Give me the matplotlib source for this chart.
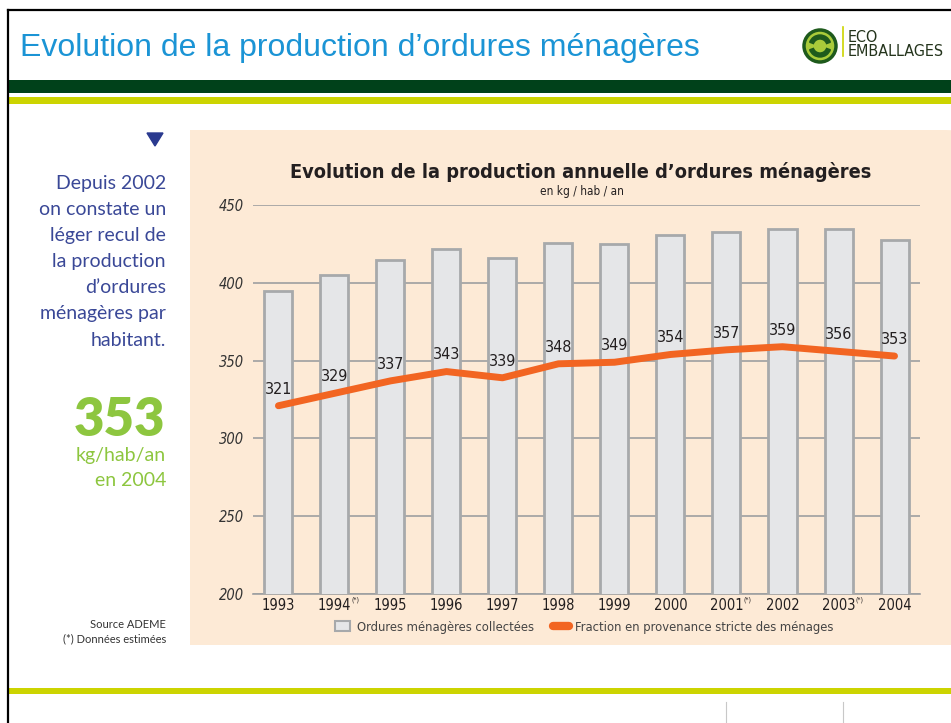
import numpy as np
import matplotlib
matplotlib.use("Agg")
import matplotlib.pyplot as plt
from matplotlib import font_manager
from matplotlib.patches import Rectangle, FancyBboxPatch, Polygon, Circle, Wedge, Patch
from matplotlib.lines import Line2D

# data
years = ["1993", "1994", "1995", "1996", "1997", "1998", "1999", "2000",
         "2001", "2002", "2003", "2004"]
estimated = [False, True, False, False, False, False, False, False,
             True, False, True, False]
collected = [395, 405, 415, 422, 416, 426, 425, 431, 433, 435, 435, 428]
households = [321, 329, 337, 343, 339, 348, 349, 354, 357, 359, 356, 353]
yticks = [200, 250, 300, 350, 400, 450]

# pick a narrow face if one is installed
fonts = font_manager.fontManager.ttflist
names = {f.name for f in fonts}
if "Liberation Sans Narrow" in names:
    NARROW = dict(fontfamily="Liberation Sans Narrow")
elif any(f.name == "DejaVu Sans" and "condensed" in str(f.stretch) for f in fonts):
    NARROW = dict(fontfamily="DejaVu Sans", fontstretch="condensed")
else:
    NARROW = dict(fontfamily="Roboto")
SANS = "Liberation Sans"
HUMAN = "Lato"

BG = "#FDEAD6"
BAR = "#E5E6E8"
BAR_EDGE = "#A7A9AB"
ORANGE = "#F26522"
BLUE_TXT = "#3A4897"
GREEN_TXT = "#8DC63F"

fig = plt.figure(figsize=(9.51, 7.23), dpi=100)

# page decoration, drawn in pixel coordinates
bg = fig.add_axes([0, 0, 1, 1])
bg.set_xlim(0, 951)
bg.set_ylim(723, 0)
bg.axis("off")

bg.plot([8, 951], [10, 10], color="black", lw=1.6)
bg.plot([8, 8], [10, 723], color="black", lw=1.6)
bg.add_patch(Rectangle((9, 80), 942, 13, color="#00411A", lw=0))
bg.add_patch(Rectangle((9, 97), 942, 7, color="#CCD400", lw=0))
bg.add_patch(Rectangle((9, 688), 942, 6, color="#CCD400", lw=0))
bg.plot([726, 726], [702, 722], color="#C8C8C8", lw=0.8)
bg.plot([843, 843], [702, 722], color="#C8C8C8", lw=0.8)

bg.text(20, 48, "Evolution de la production d\u2019ordures ménagères",
        fontfamily=SANS, fontsize=23, color="#1B94D5", va="center", ha="left")

# logo
bg.add_patch(Circle((820, 46), 16, facecolor="#A9CB3A", edgecolor="#1E5A1C", lw=2.5))
bg.add_patch(Wedge((820, 46), 11, 20, 160, width=4, color="#1E5A1C"))
bg.add_patch(Wedge((820, 46), 11, 200, 340, width=4, color="#1E5A1C"))
bg.plot([843, 843], [27, 56], color="#CCD400", lw=1.2)
bg.text(848, 37, "ECO", fontsize=11.5, color="#24341C", va="center", **NARROW)
bg.text(848, 52, "EMBALLAGES", fontsize=11.5, color="#24341C", va="center", **NARROW)

# peach panel
bg.add_patch(FancyBboxPatch((190, 130), 800, 515,
                            boxstyle="round,pad=0,rounding_size=45",
                            facecolor=BG, edgecolor="none"))
bg.add_patch(Rectangle((190, 130), 700, 515, facecolor=BG, edgecolor="none"))
bg.add_patch(Rectangle((190, 300), 761, 345, facecolor=BG, edgecolor="none"))

# left side comments
bg.add_patch(Polygon([[147, 133], [163, 133], [155, 146]], closed=True, color="#2A3A8F"))
side = ["Depuis 2002", "on constate un", "léger recul de", "la production",
        "d\u2019ordures", "ménagères par", "habitant."]
for i, line in enumerate(side):
    bg.text(166, 183 + 26.2 * i, line, fontfamily=HUMAN, fontsize=14,
            color=BLUE_TXT, ha="right", va="center")
bg.text(165, 420, "353", fontfamily=HUMAN, fontsize=38, fontweight="heavy",
        color=GREEN_TXT, ha="right", va="center")
bg.text(166, 456, "kg/hab/an", fontfamily=HUMAN, fontsize=14, color=GREEN_TXT,
        ha="right", va="center")
bg.text(166, 481, "en 2004", fontfamily=HUMAN, fontsize=14, color=GREEN_TXT,
        ha="right", va="center")
bg.text(166, 624, "Source ADEME", fontfamily=HUMAN, fontsize=8, color="#333333",
        ha="right", va="center")
bg.text(166, 639, "(*) Données estimées", fontfamily=HUMAN, fontsize=8,
        color="#333333", ha="right", va="center")

# chart title
bg.text(581, 172, "Evolution de la production annuelle d\u2019ordures ménagères",
        fontsize=14.3, fontweight="bold", color="#231F20",
        ha="center", va="center", **NARROW)
bg.text(582, 191, "en kg / hab / an", fontsize=8.5,
        color="#231F20", ha="center", va="center", **NARROW)

# chart
ax = fig.add_axes([0.2657, 0.1788, 0.7017, 0.5372])
ax.patch.set_alpha(0)
x = np.arange(len(years))
ax.bar(x, collected, width=0.5, color=BAR, edgecolor=BAR_EDGE, linewidth=2, zorder=3)
ax.plot(x, households, color=ORANGE, lw=5, solid_joinstyle="round",
        solid_capstyle="round", zorder=4)
for xi, v in zip(x, households):
    ax.annotate(str(v), (xi, v), xytext=(0, 12), textcoords="offset points",
                ha="center", va="center", fontsize=11.5,
                color="#231F20", zorder=5, **NARROW)

ax.set_xlim(-0.46, 11.455)
ax.set_ylim(200, 450)
ax.set_yticks(yticks)
ax.set_yticklabels([str(t) for t in yticks], fontstyle="italic",
                   fontsize=10.5, color="#333333", **NARROW)
ax.set_xticks(x)
ax.set_xticklabels(years, fontsize=10.5, color="#231F20", **NARROW)
ax.tick_params(axis="both", length=0)
ax.tick_params(axis="y", pad=6)
ax.tick_params(axis="x", pad=3)
for xi, flag in zip(x, estimated):
    if flag:
        ax.annotate("(*)", (xi, 0), xycoords=ax.get_xaxis_transform(),
                    xytext=(12.3, -4), textcoords="offset points", ha="left",
                    va="center", fontsize=5, color="#231F20", **NARROW)
ax.grid(axis="y", color="#9D9FA1", lw=1.2, zorder=1)
for s in ["top", "right", "left"]:
    ax.spines[s].set_visible(False)
ax.spines["bottom"].set_color("#9D9FA1")
ax.spines["bottom"].set_linewidth(1.2)

handles = [Patch(facecolor=BAR, edgecolor=BAR_EDGE, linewidth=1.5),
           Line2D([0], [0], color=ORANGE, lw=6, solid_capstyle="round")]
labels = ["Ordures ménagères collectées", "Fraction en provenance stricte des ménages"]
prop = font_manager.FontProperties(family=NARROW["fontfamily"],
                                   stretch=NARROW.get("fontstretch", "normal"), size=9.3)
fig.legend(handles, labels, loc="center", bbox_to_anchor=(584 / 951, 1 - 627 / 723),
           ncol=2, frameon=False, prop=prop,
           labelcolor="#444444", handlelength=1.2, handleheight=0.9,
           columnspacing=1.5, handletextpad=0.5)

fig.savefig("out.png", dpi=100)
